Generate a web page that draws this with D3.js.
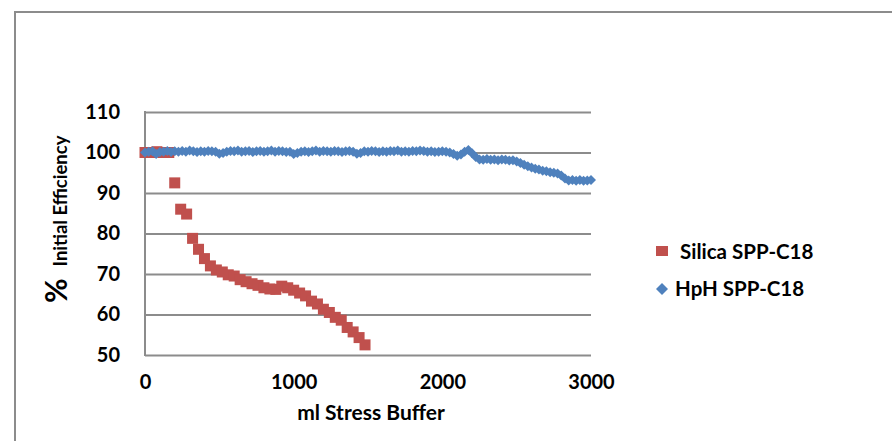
<!DOCTYPE html>
<html>
<head>
<meta charset="utf-8">
<script src="https://cdn.jsdelivr.net/npm/d3@7"></script>
<style>
  html, body { margin: 0; padding: 0; background: #ffffff; }
  svg { display: block; }
  text { font-family: Lato, "Open Sans", sans-serif; font-weight: bold; fill: #000; }
</style>
</head>
<body>
<svg id="chart" width="892" height="441"></svg>
<script>
// Column efficiency (% of initial) versus volume of stress buffer pumped (ml)
const silicaVolume = [0, 40, 80, 120, 160, 200, 240, 280, 320, 360, 400, 440, 480, 520, 560, 600, 640, 680, 720, 760,
  800, 840, 880, 920, 960, 1000, 1040, 1080, 1120, 1160, 1200, 1240, 1280, 1320, 1360, 1400, 1440, 1480];
const silicaEfficiency = [100, 100, 100.2, 100, 100, 92.5, 86, 84.8, 78.8, 76.1, 73.8, 72, 71, 70.5, 69.8, 69.5, 68.6, 68.1, 67.6, 67.2,
  66.6, 66.3, 66.2, 67, 66.6, 66, 65.3, 64.6, 63.3, 62.6, 61.3, 60.5, 59.3, 58.6, 56.8, 55.7, 54.3, 52.5];

const hphVolume = d3.range(0, 3001, 25);
const hphEfficiency = [
  100, 100.2, 100.3, 99.6, 100.1, 100.2, 100.4, 100.1, 100.3, 100.2,
  100.4, 100.2, 100.5, 100.3, 100.1, 100.3, 100.2, 100.4, 100.3, 100.2,
  99.7, 99.9, 100.2, 100.4, 100.3, 100.5, 100.2, 100.3, 100.4, 100.1,
  100.3, 100.4, 100.2, 100.3, 100.5, 100.2, 100.4, 100.3, 100.1, 100.2,
  99.6, 99.9, 100.2, 100.3, 100.1, 100.3, 100.5, 100.2, 100.4, 100.3,
  100.2, 100.4, 100.3, 100.1, 100.3, 100.4, 100.2, 99.7, 99.9, 100.3,
  100.2, 100.4, 100.3, 100.1, 100.3, 100.2, 100.4, 100.3, 100.5, 100.2,
  100.3, 100.2, 100.4, 100.3, 100.5, 100.4, 100.2, 100.3, 100.1, 100.2,
  100.3, 100.2, 100.0, 99.6, 99.2, 99.5, 100.2, 100.6, 99.8, 98.9,
  98.3, 98.2, 98.4, 98.2, 98.3, 98.1, 98.3, 98.2, 98.0, 98.1,
  97.8, 97.4, 97.0, 96.6, 96.3, 96.0, 95.8, 95.5, 95.4, 95.1,
  95.0, 94.8, 94.3, 93.6, 93.1, 93.2, 93.0, 93.2, 93.0, 93.1,
  93.2
];

const xTicks = [0, 1000, 2000, 3000];
const yTicks = [50, 60, 70, 80, 90, 100, 110];
const seriesNames = ["Silica SPP-C18", "HpH SPP-C18"];

const RED = "#C0504D", BLUE = "#4F81BD", GRID = "#8c8c8c";

const svg = d3.select("#chart");

// outer chart frame (runs past the right and bottom edges)
svg.append("rect")
  .attr("x", 15).attr("y", 12)
  .attr("width", 900).attr("height", 450)
  .attr("fill", "none").attr("stroke", GRID).attr("stroke-width", 2);

const x = d3.scaleLinear().domain([0, 3000]).range([145, 591]);
const y = d3.scaleLinear().domain([50, 110]).range([355, 112]);

// horizontal gridlines and y tick labels
const yAxis = svg.append("g")
  .attr("transform", `translate(${x(0)},0)`)
  .call(d3.axisLeft(y).tickValues(yTicks).tickSize(-(x(3000) - x(0))).tickSizeOuter(0).tickPadding(25));
yAxis.select(".domain").remove();
yAxis.selectAll(".tick line").attr("stroke", GRID).attr("stroke-width", 2);
yAxis.selectAll(".tick text")
  .style("font-size", "20px").attr("fill", "#000");

// vertical axis line
svg.append("line")
  .attr("x1", x(0)).attr("x2", x(0))
  .attr("y1", y(110) - 1).attr("y2", y(50) + 1)
  .attr("stroke", GRID).attr("stroke-width", 2);

// x tick labels
const xAxis = svg.append("g")
  .attr("transform", `translate(0,${y(50)})`)
  .call(d3.axisBottom(x).tickValues(xTicks).tickSize(0).tickPadding(20).tickFormat(d3.format("d")));
xAxis.select(".domain").remove();
xAxis.selectAll(".tick text").style("font-size", "20px").attr("fill", "#000");

// axis titles
svg.append("text")
  .attr("x", 371).attr("y", 420)
  .attr("text-anchor", "middle")
  .style("font-size", "21px")
  .text("ml Stress Buffer");

const yTitle = svg.append("text")
  .attr("transform", "translate(67,303) rotate(-90)")
  .attr("text-anchor", "start");
yTitle.append("tspan").style("font-size", "30px").text("%");
yTitle.append("tspan").attr("dx", 12).style("font-size", "18.5px").text("Initial Efficiency");

// markers
const diamond = r => `M0,${-r}L${r},0L0,${r}L${-r},0Z`;

svg.append("g").selectAll("rect")
  .data(silicaVolume.map((v, i) => [v, silicaEfficiency[i]]))
  .join("rect")
  .attr("x", d => x(d[0]) - 5.5).attr("y", d => y(d[1]) - 5.5)
  .attr("width", 11).attr("height", 11)
  .attr("fill", RED);

svg.append("g").selectAll("path")
  .data(hphVolume.map((v, i) => [v, hphEfficiency[i]]))
  .join("path")
  .attr("transform", d => `translate(${x(d[0])},${y(d[1])})`)
  .attr("d", diamond(5))
  .attr("fill", BLUE);

// legend
const legend = svg.append("g");
legend.append("rect")
  .attr("x", 656).attr("y", 246).attr("width", 12).attr("height", 10)
  .attr("fill", RED);
legend.append("text")
  .attr("x", 680).attr("y", 259)
  .style("font-size", "20.5px")
  .text(seriesNames[0]);
legend.append("path")
  .attr("transform", "translate(662,289)")
  .attr("d", diamond(6))
  .attr("fill", BLUE);
legend.append("text")
  .attr("x", 675).attr("y", 296)
  .style("font-size", "20.5px")
  .text(seriesNames[1]);
</script>
</body>
</html>
